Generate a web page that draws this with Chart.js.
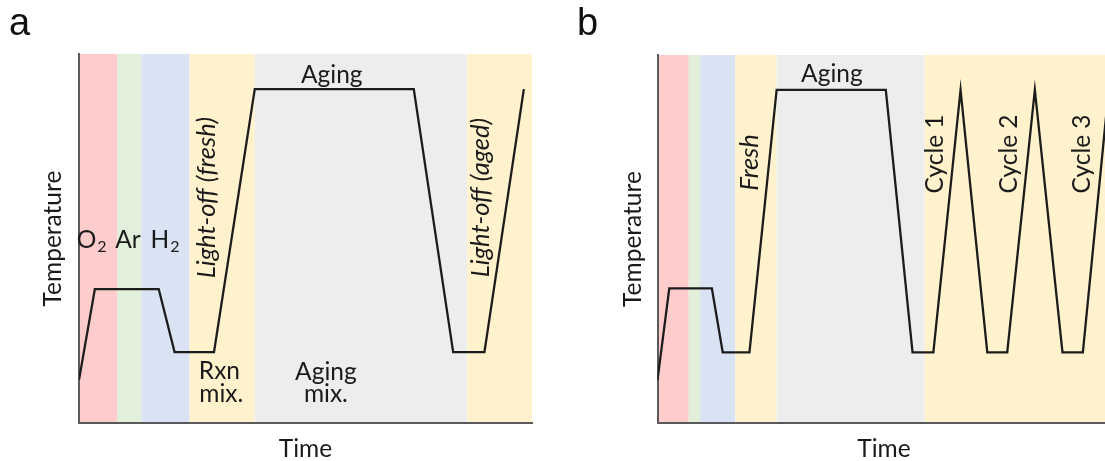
<!DOCTYPE html>
<html>
<head>
<meta charset="utf-8">
<script src="https://cdn.jsdelivr.net/npm/chart.js@4.4.1/dist/chart.umd.min.js"></script>
<style>
  html, body { margin: 0; padding: 0; background: #fff; overflow: hidden; width: 1105px; height: 461px; }
  canvas { position: absolute; top: 0; }
  #chartA { left: 0; }
  #chartB { left: 550px; }
  .panel { position: absolute; top: 3px; font: 38px 'Liberation Sans', Arial, sans-serif; line-height: 38px; color: #111; }
</style>
</head>
<body>
<canvas id="chartA" width="550" height="461"></canvas>
<canvas id="chartB" width="580" height="461"></canvas>
<div class="panel" style="left:9px">a</div>
<div class="panel" style="left:577px">b</div>
<script>
// panel a: pretreatment, light-off, aging, light-off again
const timeA = [0, 3.5, 17.6, 21.1, 29.8, 38.8, 73.9, 82.6, 89.5, 98.2];
const tempA = [11.7, 36.3, 36.3, 19.2, 19.2, 90.5, 90.5, 19.2, 19.2, 90.5];
const bandEdgesA = [0, 8.4, 13.8, 24.4, 38.8, 85.7, 100];
const bandGasA = ['O2', 'Ar', 'H2', 'rxn', 'aging', 'rxn'];

// panel b: same start, then three light-off cycles
const timeB = [0, 2.6, 12.0, 14.4, 20.3, 26.3, 50.4, 56.3, 60.9, 66.9, 72.8, 77.2, 83.3, 89.4, 93.9, 99.6];
const tempB = [11.7, 36.6, 36.6, 19.2, 19.2, 90.5, 90.5, 19.2, 19.2, 90.5, 19.2, 19.2, 90.5, 19.2, 19.2, 90.5];
const bandEdgesB = [0, 6.9, 9.4, 17.2, 26.3, 59.0, 100];
const bandGasB = ['O2', 'Ar', 'H2', 'rxn', 'aging', 'rxn'];

const gasColors = {
  O2: '#ffcccc',
  Ar: '#e2efda',
  H2: '#dae3f3',
  rxn: '#fff2cc',
  aging: '#ededed'
};

const TEXT = '#1a1a1a';
const AXIS = '#5a5a5a';
const FONT = 'Lato';
const SIZE = 24.5;
const ITALIC_SIZE = 25.5;

// text placed in data units (x = time, y = temperature)
const notesA = [
  { text: 'Aging', x: 55.8, y: 92.2 },
  { text: 'O', sub: '2', x: 2.8, y: 47.4 },
  { text: 'Ar', x: 10.8, y: 47.4 },
  { text: 'H', sub: '2', x: 19.0, y: 47.4 },
  { text: 'Rxn', x: 31.0, y: 11.8 },
  { text: 'mix.', x: 31.4, y: 5.8 },
  { text: 'Aging', x: 54.5, y: 11.7 },
  { text: 'mix.', x: 54.5, y: 5.8 },
  { text: 'Light-off (fresh)', x: 30.0, y: 61.1, up: true, italic: true },
  { text: 'Light-off (aged)', x: 90.5, y: 61.1, up: true, italic: true }
];
const notesB = [
  { text: 'Aging', x: 38.5, y: 92.7 },
  { text: 'Fresh', x: 22.2, y: 70.8, up: true, italic: true },
  { text: 'Cycle 1', x: 63.0, y: 73.1, up: true },
  { text: 'Cycle 2', x: 79.3, y: 73.1, up: true },
  { text: 'Cycle 3', x: 95.5, y: 73.1, up: true }
];

function bandsPlugin(edges, gas) {
  return {
    id: 'bands',
    beforeDraw(chart) {
      const { ctx, chartArea: area, scales: { x } } = chart;
      ctx.save();
      for (let i = 0; i < gas.length; i++) {
        const x0 = x.getPixelForValue(edges[i]);
        const x1 = x.getPixelForValue(edges[i + 1]);
        ctx.fillStyle = gasColors[gas[i]];
        ctx.fillRect(x0, area.top, x1 - x0, area.bottom - area.top);
      }
      ctx.restore();
    }
  };
}

function notesPlugin(notes) {
  return {
    id: 'notes',
    afterDatasetsDraw(chart) {
      const { ctx, scales: { x, y } } = chart;
      ctx.save();
      ctx.fillStyle = TEXT;
      ctx.textBaseline = 'alphabetic';
      ctx.textAlign = 'left';
      notes.forEach(n => {
        const font = n.italic ? 'italic ' + ITALIC_SIZE + 'px ' + FONT : SIZE + 'px ' + FONT;
        ctx.save();
        ctx.translate(x.getPixelForValue(n.x), y.getPixelForValue(n.y));
        if (n.up) ctx.rotate(-Math.PI / 2);
        ctx.font = font;
        const w = ctx.measureText(n.text).width;
        let sw = 0;
        if (n.sub) {
          ctx.font = '16px ' + FONT;
          sw = ctx.measureText(n.sub).width + 1;
        }
        ctx.font = font;
        ctx.fillText(n.text, -(w + sw) / 2, 0);
        if (n.sub) {
          ctx.font = '16px ' + FONT;
          ctx.fillText(n.sub, -(w + sw) / 2 + w + 1, 4);
        }
        ctx.restore();
      });
      ctx.restore();
    }
  };
}

function axes(yPadOuter, yPadInner) {
  const titleFont = { family: FONT, size: SIZE, lineHeight: 1 };
  return {
    x: {
      type: 'linear', min: 0, max: 100,
      ticks: { display: false },
      grid: { display: false, drawTicks: false },
      border: { display: true, color: AXIS, width: 2 },
      title: { display: true, text: 'Time', color: TEXT, font: titleFont, padding: { top: 13.5, bottom: 0 } }
    },
    y: {
      type: 'linear', min: 0, max: 100,
      ticks: { display: false },
      grid: { display: false, drawTicks: false },
      border: { display: true, color: AXIS, width: 2 },
      title: { display: true, text: 'Temperature', color: TEXT, font: titleFont, padding: { top: yPadOuter, bottom: yPadInner } }
    }
  };
}

function makeChart(el, time, temp, edges, gas, notes, padding, yPads) {
  return new Chart(el, {
    type: 'line',
    data: {
      datasets: [{
        data: time.map((t, i) => ({ x: t, y: temp[i] })),
        borderColor: '#1c1c1c',
        borderWidth: 2.3,
        pointRadius: 0,
        fill: false,
        tension: 0
      }]
    },
    options: {
      responsive: false,
      animation: false,
      layout: { padding: padding },
      scales: axes(yPads[0], yPads[1]),
      plugins: { legend: { display: false }, tooltip: { enabled: false } }
    },
    plugins: [bandsPlugin(edges, gas), notesPlugin(notes)]
  });
}

makeChart(document.getElementById('chartA'), timeA, tempA, bandEdgesA, bandGasA, notesA,
  { left: 20, top: 54, right: 18, bottom: 0 }, [20.75, 13.75]);
makeChart(document.getElementById('chartB'), timeB, tempB, bandEdgesB, bandGasB, notesB,
  { left: 50, top: 55, right: 19.5, bottom: 0 }, [20.75, 12.25]);
</script>
</body>
</html>
